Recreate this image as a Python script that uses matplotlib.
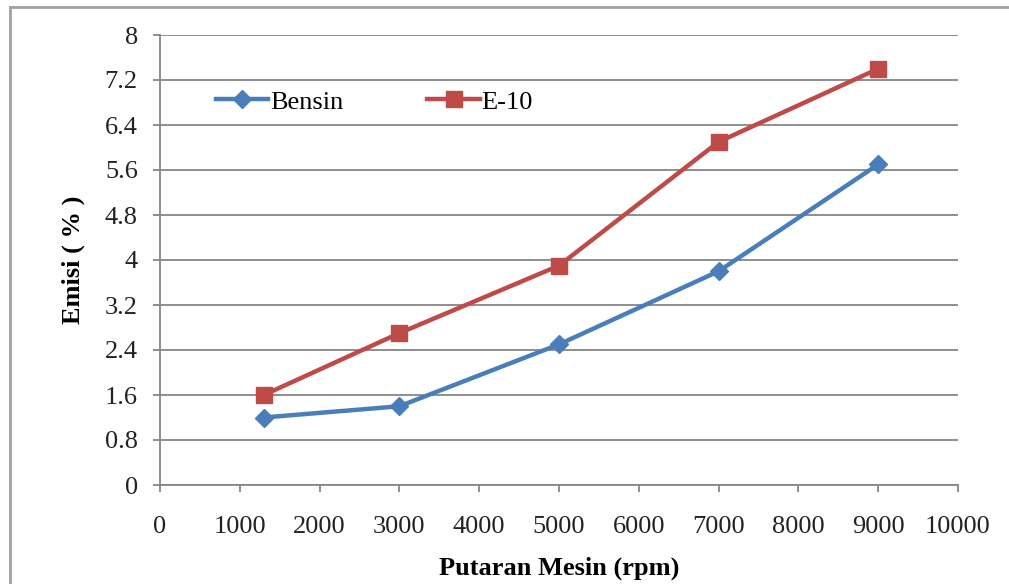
import numpy as np
import matplotlib.pyplot as plt
from matplotlib.lines import Line2D

rpm = [1300, 3000, 5000, 7000, 9000]
bensin = [1.2, 1.4, 2.5, 3.8, 5.7]
e10 = [1.6, 2.7, 3.9, 6.1, 7.4]
xticks = np.arange(0, 10001, 1000)
yticks = [0, 0.8, 1.6, 2.4, 3.2, 4, 4.8, 5.6, 6.4, 7.2, 8]
ytick_labels = ['0', '0.8', '1.6', '2.4', '3.2', '4', '4.8', '5.6', '6.4', '7.2', '8']

plt.rcParams['font.family'] = ['Liberation Serif', 'DejaVu Serif']
grey = '#868686'

fig = plt.figure(figsize=(10.09, 5.84), dpi=100)
ax = fig.add_axes([160/1009, 1 - 485/584, 798/1009, 450/584])

ax.plot(rpm, bensin, color='#4A7EBB', lw=3.2, marker='D', ms=9, label='Bensin', zorder=3)
ax.plot(rpm, e10, color='#BE4B48', lw=3.2, marker='s', ms=12, label='E-10', zorder=3)

ax.set_xlim(0, 10000)
ax.set_ylim(0, 8)
ax.set_xticks(xticks)
ax.set_yticks(yticks)
ax.set_yticklabels(ytick_labels)
ax.yaxis.grid(True, color=grey, lw=1.3)
ax.set_axisbelow(True)
for s in ['top', 'right']:
    ax.spines[s].set_visible(False)
for s in ['left', 'bottom']:
    ax.spines[s].set_color(grey)
    ax.spines[s].set_linewidth(1.3)
ax.tick_params(axis='both', colors=grey, width=1.3, length=5, labelsize=19, labelcolor='#222222')
ax.tick_params(axis='x', pad=17)
ax.tick_params(axis='y', pad=11)

ax.set_xlabel('Putaran Mesin (rpm)', fontsize=19, fontweight='bold', labelpad=14)
ax.set_ylabel('Emisi ( % )', fontsize=19, fontweight='bold', labelpad=14)

ax.legend(loc='upper left', bbox_to_anchor=(0.04, 0.93), ncol=2, frameon=False,
          fontsize=19, handlelength=2.0, columnspacing=3.2, handletextpad=0.05)

# figure border
fig.add_artist(Line2D([10/1009, 10/1009], [0, 1 - 7/584], color='#a0a0a0', lw=2, transform=fig.transFigure))
fig.add_artist(Line2D([10/1009, 1], [1 - 7/584, 1 - 7/584], color='#a0a0a0', lw=2, transform=fig.transFigure))

fig.savefig('out.png', dpi=100)
